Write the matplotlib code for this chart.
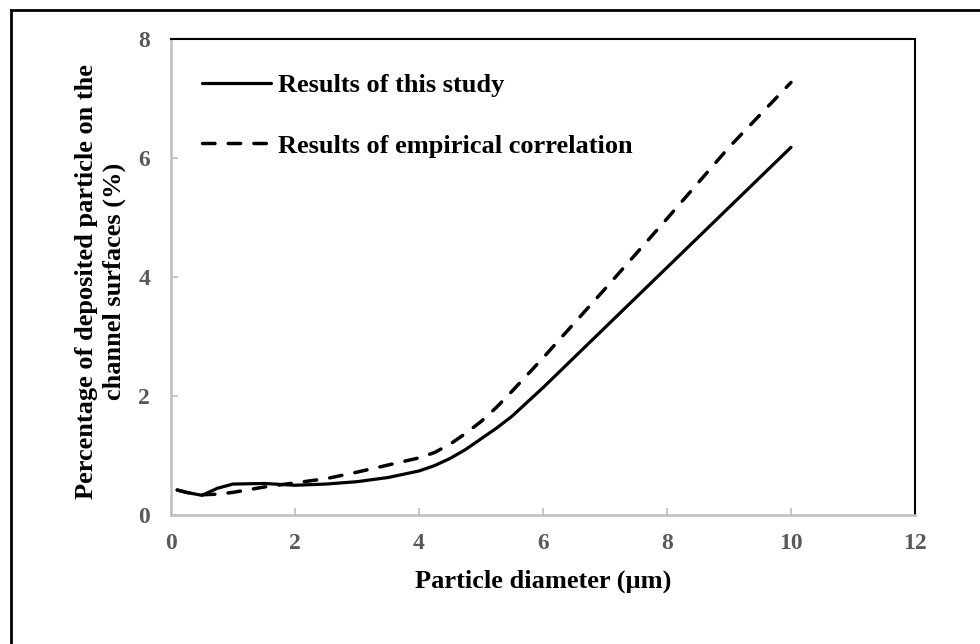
import matplotlib
matplotlib.use('Agg')
import matplotlib.pyplot as plt
from matplotlib.lines import Line2D

plt.rcParams['font.family'] = ['Liberation Serif', 'DejaVu Serif']
plt.rcParams['font.weight'] = 'bold'

# particle diameter (um)
diam = [0.1, 0.25, 0.5, 0.75, 1, 1.5, 2, 2.5, 3, 3.5, 4, 4.25, 4.5, 4.75, 5, 5.25,
        5.5, 6, 7, 8, 9, 10]
# deposited percentage, this study
this_study = [0.42, 0.38, 0.33, 0.45, 0.52, 0.53, 0.50, 0.52, 0.56, 0.63, 0.74, 0.83,
              0.95, 1.10, 1.28, 1.46, 1.66, 2.14, 3.15, 4.16, 5.17, 6.18]
# deposited percentage, empirical correlation
empirical = [0.42, 0.38, 0.34, 0.35, 0.38, 0.47, 0.54, 0.61, 0.72, 0.84, 0.96, 1.05,
             1.19, 1.37, 1.57, 1.81, 2.08, 2.64, 3.80, 4.98, 6.18, 7.27]

x_ticks = [0, 2, 4, 6, 8, 10, 12]
y_ticks = [0, 2, 4, 6, 8]

fig = plt.figure(figsize=(9.8, 6.44), dpi=100)
ax = fig.add_axes([171/980, 1 - 515/644, (915 - 171)/980, (515 - 39)/644])

ax.plot(diam, this_study, color='black', lw=2.3, solid_capstyle='round',
        label='Results of this study')
ax.plot(diam, empirical, color='black', lw=2.5, linestyle=(0, (3.6, 3.8)),
        dash_capstyle='round', label='Results of empirical correlation')

ax.set_xlim(0, 12)
ax.set_ylim(0, 8)
ax.set_xticks(x_ticks)
ax.set_yticks(y_ticks)

grey = '#bfbfbf'
for side in ['left', 'bottom']:
    ax.spines[side].set_color(grey)
    ax.spines[side].set_linewidth(1.8)
for side in ['top', 'right']:
    ax.spines[side].set_color('black')
    ax.spines[side].set_linewidth(1.5)

ax.tick_params(axis='both', direction='in', length=5, width=1.2, color=grey,
               labelsize=17, labelcolor='#595959')
ax.tick_params(axis='y', pad=15)
ax.tick_params(axis='x', pad=13)
for lbl in ax.get_xticklabels() + ax.get_yticklabels():
    lbl.set_fontweight('bold')

ax.set_xlabel('Particle diameter (µm)', fontsize=19, fontweight='bold')
ax.xaxis.set_label_coords(0.5, -0.115)
ax.set_ylabel('Percentage of deposited particle on the\nchannel surfaces (%)',
              fontsize=19, fontweight='bold', linespacing=1.25)
ax.yaxis.set_label_coords(-0.06, 0.49)

leg = ax.legend(loc='upper left', bbox_to_anchor=(0.042, 0.927), frameon=False,
                borderpad=0, borderaxespad=0, handlelength=2.6, handletextpad=0.28,
                labelspacing=1.4, prop={'weight': 'bold', 'size': 19})

# outer frame (left and top edges visible)
fig.add_artist(Line2D([11/980, 11/980], [0, 1 - 10/644], color='black', lw=2,
                      transform=fig.transFigure))
fig.add_artist(Line2D([11/980, 1], [1 - 10/644, 1 - 10/644], color='black', lw=2,
                      transform=fig.transFigure))

fig.savefig('out.png', dpi=100)
